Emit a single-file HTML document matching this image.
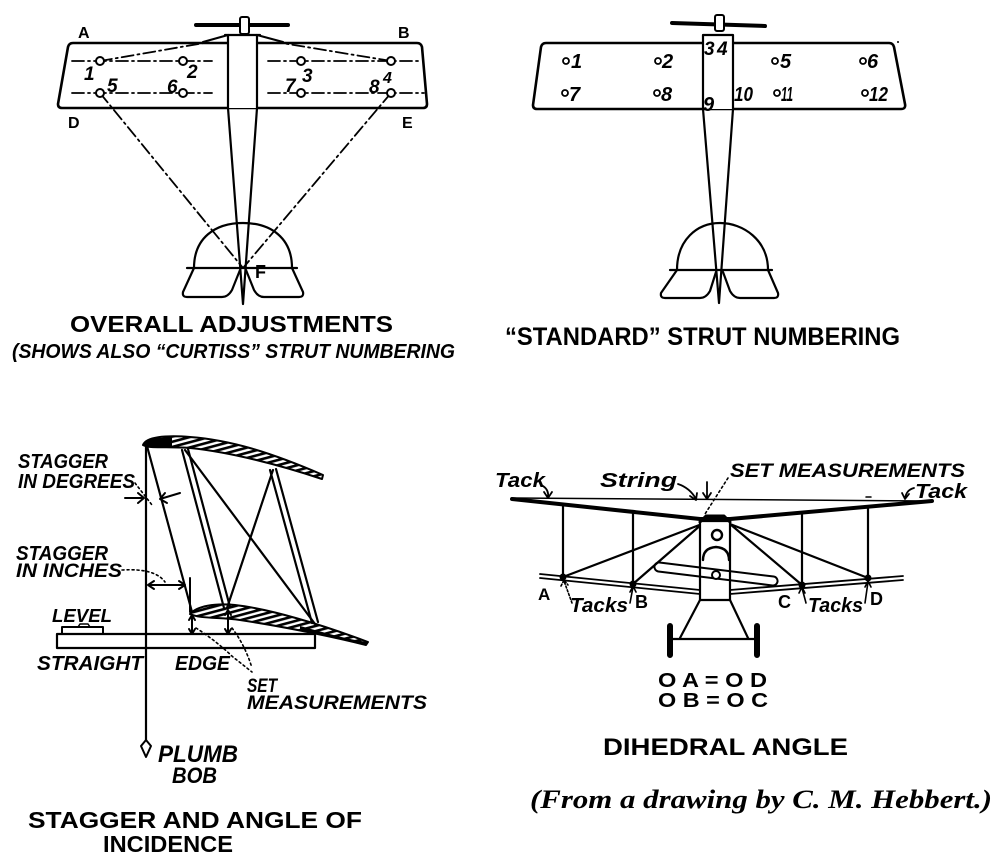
<!DOCTYPE html>
<html><head><meta charset="utf-8"><style>
html,body{margin:0;padding:0;background:#fff;}
svg{display:block;}
text{font-family:"Liberation Sans",sans-serif;fill:#000;stroke:none;}
.c{font-weight:bold;}
.i{font-weight:bold;font-style:italic;}
</style></head><body>
<svg width="1000" height="858" viewBox="0 0 1000 858" xmlns="http://www.w3.org/2000/svg">
<defs>
<pattern id="h" width="5" height="5" patternUnits="userSpaceOnUse" patternTransform="rotate(75)"><rect width="2.6" height="5" fill="#000"/></pattern>
</defs>
<rect width="1000" height="858" fill="#fff"/>
<g fill="none" stroke="#000" stroke-width="2.2" stroke-linecap="round" stroke-linejoin="round">

<!-- ===== TOP LEFT ===== -->
<path d="M73,43 L417,43 Q421,43 422,47 L427,104 Q427,108 423,108 L62,108 Q58,108 58,104 L68,47 Q69,43 73,43 Z" stroke-width="2.6"/>
<g stroke-dasharray="12,4,2,4" stroke-width="1.8">
<line x1="72" y1="61" x2="212" y2="61"/>
<line x1="268" y1="61" x2="422" y2="61"/>
<line x1="72" y1="93" x2="212" y2="93"/>
<line x1="268" y1="93" x2="424" y2="93"/>
<line x1="100" y1="61" x2="204" y2="43"/>
<line x1="391" y1="61" x2="282" y2="43"/>
<line x1="100" y1="93" x2="243" y2="268"/>
<line x1="391" y1="93" x2="243" y2="268"/>
</g>
<g fill="#fff" stroke-width="2">
<circle cx="100" cy="61" r="4"/><circle cx="183" cy="61" r="4"/><circle cx="301" cy="61" r="4"/><circle cx="391" cy="61" r="4"/>
<circle cx="100" cy="93" r="4"/><circle cx="183" cy="93" r="4"/><circle cx="301" cy="93" r="4"/><circle cx="391" cy="93" r="4"/>
</g>
<rect x="228" y="36" width="29" height="72" fill="#fff" stroke="none"/>
<path d="M228,36 L228,108 L243,304 L257,108 L257,36"/>
<path d="M225,35 L260,35"/>
<path d="M203,42 L228,35 M257,35 L283,42"/>
<path d="M196,25 L288,25" stroke-width="4"/>
<rect x="240" y="17" width="9" height="17" rx="2" fill="#fff" stroke-width="2"/>
<path d="M194,268 C194,238 215,223 243,223 C271,223 292,238 292,268"/>
<path d="M187,268 L297,268"/>
<path d="M194,268 L183,292 Q182,297 187,297 L222,297 Q228,297 232,290 L240,270"/>
<path d="M292,268 L303,292 Q304,297 299,297 L264,297 Q258,297 254,290 L246,270"/>

<!-- ===== TOP RIGHT ===== -->
<path d="M546,43 L889,43 Q893,43 894,47 L905,104 Q906,109 901,109 L537,109 Q533,109 533,105 L541,47 Q542,43 546,43 Z" stroke-width="2.6"/>
<rect x="703" y="35" width="30" height="74" fill="#fff" stroke="none"/>
<path d="M703,35 L703,109 L719,303 L733,109 L733,35 Z" fill="none"/>
<path d="M672,23 L765,26" stroke-width="4"/>
<rect x="715" y="15" width="9" height="16" rx="2" fill="#fff" stroke-width="2"/>
<path d="M677,270 C677,240 697,223 720,223 C743,223 768,240 768,270"/>
<path d="M670,270 L772,270"/>
<path d="M677,270 L661,293 Q660,298 665,298 L700,298 Q706,298 710,291 L716,272"/>
<path d="M768,270 L778,293 Q779,298 774,298 L740,298 Q734,298 730,291 L723,272"/>
<g stroke-width="1.8">
<circle cx="566" cy="61" r="3"/><circle cx="658" cy="61" r="3"/><circle cx="775" cy="61" r="3"/><circle cx="863" cy="61" r="3"/>
<circle cx="565" cy="93" r="3"/><circle cx="657" cy="93" r="3"/><circle cx="777" cy="93" r="3"/><circle cx="865" cy="93" r="3"/>
</g>
<circle cx="898" cy="42" r="1" fill="#000" stroke="none"/>

<!-- ===== BOTTOM LEFT ===== -->
<rect x="57" y="634" width="258" height="14" stroke-width="2.2"/>
<rect x="62" y="627" width="41" height="7" stroke-width="2"/>
<path d="M78,627 L80,624 L88,624 L90,627" stroke-width="1.5"/>
<path d="M146,443 L146,740"/>
<path d="M146,740 L141,746 L146,757 L151,746 Z" stroke-width="2"/>
<path d="M182,450 L224,608 M188,449 L230,607"/>
<path d="M270,470 L312,623 M276,469 L318,622"/>
<path d="M185,450 L315,624 M273,470 L227,608"/>
<path d="M147,446 L192,612"/>
<path d="M143,445 C146,437 165,435 190,437 C230,440 270,452 323,475 L322,479 C280,465 230,452 190,448 C165,446 150,449 143,445 Z" fill="url(#h)" stroke-width="2"/>
<path d="M143,445 C146,438 160,437 172,438 L172,447 C160,446 150,449 143,445 Z" fill="#000" stroke="none"/>
<path d="M190,614 C197,606 215,603 235,605 C270,609 320,624 368,642 L366,645 C330,636 280,626 240,620 C220,617 200,619 190,614 Z" fill="url(#h)" stroke-width="2"/>
<path d="M300,626 C330,634 350,640 368,642 L366,645 C340,639 320,634 300,630 Z" fill="#000" stroke="none"/>
<path d="M125,498 L144,498 M138,493 L144,498 L138,503" stroke-width="2"/>
<path d="M180,493 L160,499 M165,493 L160,499 L167,503" stroke-width="2"/>
<path d="M135,483 L152,505" stroke-dasharray="2,3" stroke-width="1.6"/>
<path d="M148,585 L185,585 M154,581 L148,585 L154,589 M179,581 L185,585 L179,589" stroke-width="2"/>
<path d="M190,578 L190,612" stroke-width="2"/>
<path d="M122,570 Q155,568 165,582" stroke-dasharray="2,3" stroke-width="1.6"/>
<path d="M192,616 L192,633 M189,620 L192,615 L195,620 M189,629 L192,634 L195,629" stroke-width="2"/>
<path d="M228,611 L228,633 M225,615 L228,610 L231,615 M225,629 L228,634 L231,629" stroke-width="2"/>
<path d="M196,628 Q215,640 233,657 L252,672" stroke-dasharray="2,3" stroke-width="1.6"/>
<path d="M232,628 Q245,645 252,668" stroke-dasharray="2,3" stroke-width="1.6"/>

<!-- ===== BOTTOM RIGHT ===== -->
<path d="M512,498 L932,501" stroke-width="1.5"/>
<path d="M512,499 L700,519 L730,519 L932,501" stroke-width="4"/>
<path d="M540,574 L700,590 M540,578 L700,594 M730,590 L903,576 M730,594 L903,580" stroke-width="1.8"/>
<path d="M563,504 L563,577 M633,511 L633,584 M802,513 L802,585 M868,507 L868,579"/>
<path d="M702,524 L563,577 M702,524 L633,584 M730,524 L802,585 M730,524 L868,578"/>
<g fill="#000" stroke="none">
<circle cx="563" cy="577" r="3.5"/><circle cx="633" cy="584" r="3.5"/><circle cx="802" cy="585" r="3.5"/><circle cx="868" cy="578" r="3.5"/>
</g>
<rect x="700" y="521" width="30" height="79" fill="#fff"/>
<path d="M700,522 L706,516 L724,516 L730,522" stroke-width="3"/>
<circle cx="717" cy="535" r="5" stroke-width="2.4"/>
<path d="M703,560 Q703,548 716,547 Q729,548 729,560" stroke-width="2.4"/>
<rect x="-62" y="-4.5" width="124" height="9" rx="4.5" transform="translate(716,574) rotate(7)" stroke-width="2"/>
<circle cx="716" cy="575" r="4" fill="#fff" stroke-width="2"/>
<path d="M700,600 L680,638 M730,600 L748,638 M672,639 L757,639"/>
<path d="M670,626 L670,655 M757,626 L757,655" stroke-width="6"/>
<path d="M543,486 Q549,490 548,497 M544,492 L548,498 L552,492" stroke-width="1.8"/>
<path d="M678,484 Q690,488 696,499 M690,496 L696,500 L697,493" stroke-width="1.8"/>
<path d="M707,482 L707,498 M703,493 L707,499 L711,493" stroke-width="1.8"/>
<path d="M728,478 L705,514" stroke-dasharray="2,3" stroke-width="1.6"/>
<path d="M914,488 Q906,490 905,499 M902,493 L905,499 L909,494" stroke-width="1.8"/>
<path d="M866,497 L871,497" stroke-width="1.5"/>
<path d="M572,603 L564,581 M561,586 L564,580 L568,585" stroke-width="1.6" stroke-dasharray="2,2"/>
<path d="M630,603 L633,587 M630,592 L633,586 L636,592" stroke-width="1.6"/>
<path d="M806,603 L802,588 M799,593 L802,587 L805,593" stroke-width="1.6"/>
<path d="M865,603 L868,582 M865,587 L868,581 L871,587" stroke-width="1.6"/>
</g>

<!-- ===== TEXT ===== -->
<text x="78" y="38" class="c" font-size="16">A</text>
<text x="398" y="38" class="c" font-size="16">B</text>
<text x="68" y="128" class="c" font-size="16">D</text>
<text x="402" y="128" class="c" font-size="16">E</text>
<text x="84" y="80" class="i" font-size="19">1</text>
<text x="107" y="92" class="i" font-size="19">5</text>
<text x="187" y="78" class="i" font-size="19">2</text>
<text x="167" y="93" class="i" font-size="19">6</text>
<text x="285" y="92" class="i" font-size="19">7</text>
<text x="302" y="82" class="i" font-size="19">3</text>
<text x="369" y="93" class="i" font-size="19">8</text>
<text x="383" y="83" class="i" font-size="16">4</text>
<text x="255" y="278" class="c" font-size="18">F</text>
<text x="70" y="332" class="c" font-size="23" textLength="323" lengthAdjust="spacingAndGlyphs">OVERALL ADJUSTMENTS</text>
<text x="12" y="358" class="i" font-size="20" textLength="443" lengthAdjust="spacingAndGlyphs">(SHOWS ALSO “CURTISS” STRUT NUMBERING</text>

<text x="571" y="68" class="i" font-size="20">1</text>
<text x="662" y="68" class="i" font-size="20">2</text>
<text x="704" y="55" class="i" font-size="19">3</text>
<text x="717" y="55" class="i" font-size="19">4</text>
<text x="780" y="68" class="i" font-size="20">5</text>
<text x="867" y="68" class="i" font-size="20">6</text>
<text x="569" y="101" class="i" font-size="20">7</text>
<text x="661" y="101" class="i" font-size="20">8</text>
<text x="703" y="111" class="i" font-size="20">9</text>
<text x="734" y="101" class="i" font-size="20" textLength="19" lengthAdjust="spacingAndGlyphs">10</text>
<text x="781" y="101" class="i" font-size="20" textLength="12" lengthAdjust="spacingAndGlyphs">11</text>
<text x="869" y="101" class="i" font-size="20" textLength="19" lengthAdjust="spacingAndGlyphs">12</text>
<text x="505" y="345" class="c" font-size="25" textLength="395" lengthAdjust="spacingAndGlyphs">“STANDARD” STRUT NUMBERING</text>

<text x="18" y="468" class="i" font-size="20" textLength="90" lengthAdjust="spacingAndGlyphs">STAGGER</text>
<text x="18" y="488" class="i" font-size="20" textLength="117" lengthAdjust="spacingAndGlyphs">IN DEGREES</text>
<text x="16" y="560" class="i" font-size="20" textLength="92" lengthAdjust="spacingAndGlyphs">STAGGER</text>
<text x="16" y="577" class="i" font-size="19" textLength="106" lengthAdjust="spacingAndGlyphs">IN INCHES</text>
<text x="52" y="622" class="i" font-size="18" textLength="60" lengthAdjust="spacingAndGlyphs">LEVEL</text>
<text x="37" y="670" class="i" font-size="20" textLength="106" lengthAdjust="spacingAndGlyphs">STRAIGHT</text>
<text x="175" y="670" class="i" font-size="20" textLength="55" lengthAdjust="spacingAndGlyphs">EDGE</text>
<text x="247" y="692" class="i" font-size="19" textLength="30" lengthAdjust="spacingAndGlyphs">SET</text>
<text x="247" y="709" class="i" font-size="19" textLength="180" lengthAdjust="spacingAndGlyphs">MEASUREMENTS</text>
<text x="158" y="762" class="i" font-size="24" textLength="80" lengthAdjust="spacingAndGlyphs">PLUMB</text>
<text x="172" y="783" class="i" font-size="22" textLength="45" lengthAdjust="spacingAndGlyphs">BOB</text>
<text x="28" y="828" class="c" font-size="23" textLength="334" lengthAdjust="spacingAndGlyphs">STAGGER AND ANGLE OF</text>
<text x="103" y="852" class="c" font-size="23" textLength="130" lengthAdjust="spacingAndGlyphs">INCIDENCE</text>

<text x="495" y="487" class="i" font-size="20" textLength="50" lengthAdjust="spacingAndGlyphs">Tack</text>
<text x="600" y="487" class="i" font-size="20" textLength="77" lengthAdjust="spacingAndGlyphs">String</text>
<text x="730" y="477" class="i" font-size="19" textLength="235" lengthAdjust="spacingAndGlyphs">SET MEASUREMENTS</text>
<text x="915" y="498" class="i" font-size="20" textLength="52" lengthAdjust="spacingAndGlyphs">Tack</text>
<text x="538" y="600" class="c" font-size="17">A</text>
<text x="570" y="612" class="i" font-size="20" textLength="58" lengthAdjust="spacingAndGlyphs">Tacks</text>
<text x="635" y="608" class="c" font-size="18">B</text>
<text x="778" y="608" class="c" font-size="18">C</text>
<text x="808" y="612" class="i" font-size="20" textLength="55" lengthAdjust="spacingAndGlyphs">Tacks</text>
<text x="870" y="605" class="c" font-size="18">D</text>
<text x="658" y="687" class="c" font-size="20" textLength="109" lengthAdjust="spacingAndGlyphs">O A = O D</text>
<text x="658" y="707" class="c" font-size="20" textLength="110" lengthAdjust="spacingAndGlyphs">O B = O C</text>
<text x="603" y="755" class="c" font-size="24" textLength="245" lengthAdjust="spacingAndGlyphs">DIHEDRAL ANGLE</text>
<text x="530" y="808" font-weight="bold" font-style="italic" font-size="26" textLength="462" lengthAdjust="spacingAndGlyphs" style="font-family:'Liberation Serif',serif">(From a drawing by C. M. Hebbert.)</text>
</svg>
</body></html>
